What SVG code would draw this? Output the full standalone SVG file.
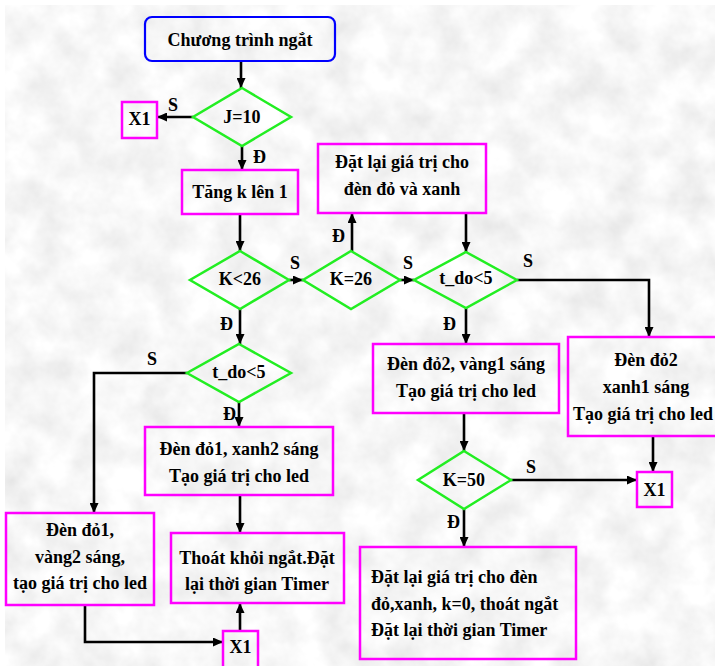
<svg xmlns="http://www.w3.org/2000/svg" width="715" height="666" viewBox="0 0 715 666">
  <defs>
    <!-- mottled grey paper behind the chart -->
    <filter id="marble" x="0" y="0" width="100%" height="100%">
      <feTurbulence type="fractalNoise" baseFrequency="0.028" numOctaves="4" seed="7"/>
      <feColorMatrix type="matrix" values="0.32 0 0 0 0.77  0.32 0 0 0 0.77  0.32 0 0 0 0.77  0 0 0 0 1"/>
    </filter>
    <marker id="arrow" markerUnits="userSpaceOnUse" markerWidth="10" markerHeight="9" refX="10" refY="4.5" orient="auto">
      <path d="M0,0 L10,4.5 L0,9 Z" fill="#000"/>
    </marker>
    <style>
      text { font-family: "Liberation Serif", "Times New Roman", serif; font-weight: bold; font-size: 18px; fill: #000; }
      .c { text-anchor: middle; }
      .box { fill: none; stroke: #ff00ff; stroke-width: 2.5; }
      .dec { fill: none; stroke: #22ee22; stroke-width: 2.5; }
      .start { fill: none; stroke: #0000ff; stroke-width: 2.2; }
      #connectors path { fill: none; stroke: #000; stroke-width: 2.6; marker-end: url(#arrow); }
    </style>
  </defs>

  <rect width="715" height="666" fill="#fff"/>
  <rect x="5" y="5" width="710" height="661" fill="#ececec" filter="url(#marble)"/>

  <g id="connectors">
    <path d="M241,61 V88"/>
    <path d="M193,117 H157"/>
    <path d="M242,146 V170"/>
    <path d="M240,214 V251"/>
    <path d="M289,280 H303"/>
    <path d="M352,251 V213"/>
    <path d="M400,280 H414"/>
    <path d="M466,213 V252"/>
    <path d="M517,280 H649 V337"/>
    <path d="M466,308 V344"/>
    <path d="M464,413 V451"/>
    <path d="M511,480 H637"/>
    <path d="M653,436 V472"/>
    <path d="M464,509 V547"/>
    <path d="M240,309 V344"/>
    <path d="M187,373 H94 V513"/>
    <path d="M239,402 V427"/>
    <path d="M240,495 V533"/>
    <path d="M240,631 V603"/>
    <path d="M85,605 V642 H223"/>
  </g>

  <g id="labels">
    <text x="168" y="111">S</text>
    <text x="253" y="163">Đ</text>
    <text x="290" y="269">S</text>
    <text x="403" y="269">S</text>
    <text x="523" y="267">S</text>
    <text x="332" y="242">Đ</text>
    <text x="220" y="330">Đ</text>
    <text x="443" y="330">Đ</text>
    <text x="147" y="365">S</text>
    <text x="223" y="420">Đ</text>
    <text x="526" y="473">S</text>
    <text x="447" y="528">Đ</text>
  </g>

  <g id="start">
    <rect class="start" x="145" y="17" width="190" height="44" rx="7"/>
    <text class="c" x="240" y="46">Chương trình ngắt</text>
  </g>

  <g id="j10">
    <polygon class="dec" points="242,88 291,117 242,146 193,117"/>
    <text class="c" x="242" y="123">J=10</text>
  </g>

  <g id="x1-top">
    <rect class="box" x="122" y="102" width="35" height="36"/>
    <text class="c" x="139.5" y="125">X1</text>
  </g>

  <g id="inc-k">
    <rect class="box" x="182" y="170" width="116" height="44"/>
    <text class="c" x="240" y="198">Tăng k lên 1</text>
  </g>

  <g id="k-lt-26">
    <polygon class="dec" points="240,251 289,280 240,309 190,280"/>
    <text class="c" x="240" y="285">K&lt;26</text>
  </g>

  <g id="k-eq-26">
    <polygon class="dec" points="351,251 400,280 351,309 303,280"/>
    <text class="c" x="351" y="285">K=26</text>
  </g>

  <g id="reset-red-green">
    <rect class="box" x="318" y="144" width="168" height="69"/>
    <text class="c" x="402" y="168">Đặt lại giá trị cho</text>
    <text class="c" x="402" y="195">đèn đỏ và xanh</text>
  </g>

  <g id="tdo-right">
    <polygon class="dec" points="466,252 517,280 466,308 414,280"/>
    <text class="c" x="466" y="284">t_do&lt;5</text>
  </g>

  <g id="red2-green1">
    <rect class="box" x="568" y="337" width="160" height="99"/>
    <text class="c" x="646" y="366">Đèn đỏ2</text>
    <text class="c" x="646" y="393">xanh1 sáng</text>
    <text class="c" x="643" y="420">Tạo giá trị cho led</text>
  </g>

  <g id="red2-yellow1">
    <rect class="box" x="373" y="344" width="186" height="69"/>
    <text class="c" x="466" y="370">Đèn đỏ2, vàng1 sáng</text>
    <text class="c" x="466" y="397">Tạo giá trị cho led</text>
  </g>

  <g id="k-eq-50">
    <polygon class="dec" points="464,451 511,480 464,509 418,480"/>
    <text class="c" x="464" y="486">K=50</text>
  </g>

  <g id="x1-right">
    <rect class="box" x="637" y="472" width="35" height="35"/>
    <text class="c" x="654.5" y="496">X1</text>
  </g>

  <g id="reset-exit">
    <rect class="box" x="360" y="547" width="216" height="112"/>
    <text x="371" y="583">Đặt lại giá trị cho đèn</text>
    <text x="371" y="609.5">đỏ,xanh, k=0, thoát ngắt</text>
    <text x="371" y="636">Đặt lại thời gian Timer</text>
  </g>

  <g id="tdo-left">
    <polygon class="dec" points="239,344 291,373 239,402 187,373"/>
    <text class="c" x="239" y="378">t_do&lt;5</text>
  </g>

  <g id="red1-green2">
    <rect class="box" x="145" y="427" width="188" height="68"/>
    <text class="c" x="239" y="455">Đèn đỏ1, xanh2 sáng</text>
    <text class="c" x="239" y="482">Tạo giá trị cho led</text>
  </g>

  <g id="exit-isr">
    <rect class="box" x="171" y="533" width="173" height="70"/>
    <text class="c" x="257" y="564">Thoát khỏi ngắt.Đặt</text>
    <text class="c" x="257" y="590">lại thời gian Timer</text>
  </g>

  <g id="red1-yellow2">
    <rect class="box" x="6" y="513" width="148" height="92"/>
    <text class="c" x="80" y="536">Đèn đỏ1,</text>
    <text class="c" x="80" y="563">vàng2 sáng,</text>
    <text class="c" x="80" y="589">tạo giá trị cho led</text>
  </g>

  <g id="x1-bottom">
    <rect class="box" x="223" y="631" width="35" height="40"/>
    <text class="c" x="240.5" y="653">X1</text>
  </g>
</svg>
